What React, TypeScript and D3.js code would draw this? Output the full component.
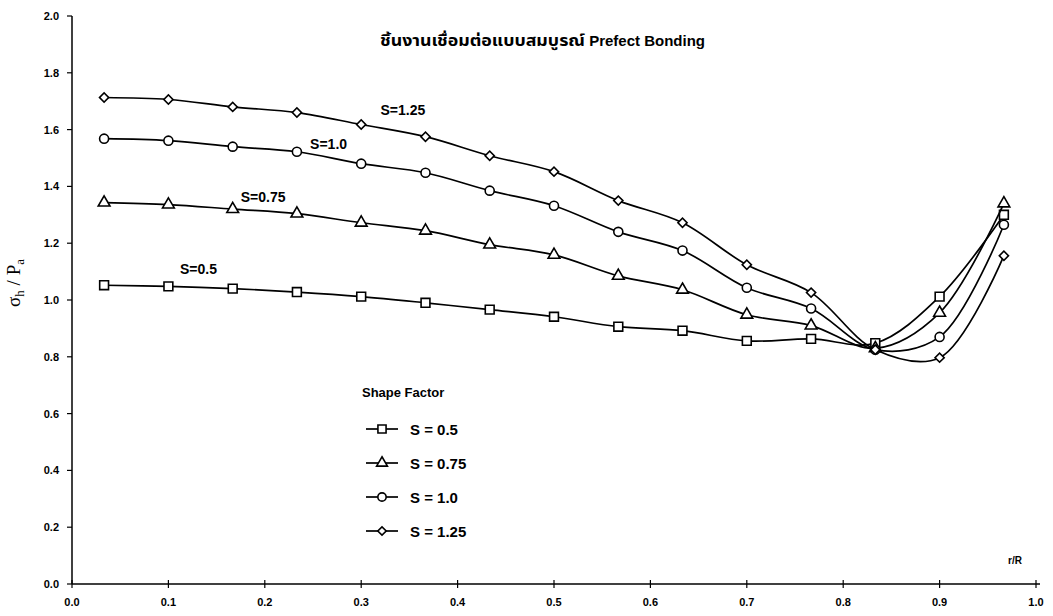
import React from "react";
import * as d3 from "d3";

// r/R positions and the sigma_h / Pa values
const rR = [0.0333, 0.1, 0.1667, 0.2333, 0.3, 0.3667, 0.4333, 0.5, 0.5667, 0.6333, 0.7, 0.7667, 0.8333, 0.9, 0.9667];
const s050 = [1.052, 1.048, 1.04, 1.028, 1.012, 0.99, 0.966, 0.941, 0.906, 0.892, 0.856, 0.863, 0.848, 1.012, 1.3];
const s075 = [1.343, 1.336, 1.32, 1.304, 1.272, 1.244, 1.195, 1.159, 1.085, 1.036, 0.948, 0.91, 0.83, 0.955, 1.34];
const s100 = [1.568, 1.561, 1.54, 1.522, 1.48, 1.448, 1.385, 1.332, 1.24, 1.174, 1.043, 0.97, 0.825, 0.87, 1.265];
const s125 = [1.713, 1.706, 1.68, 1.66, 1.618, 1.575, 1.508, 1.452, 1.35, 1.272, 1.124, 1.026, 0.825, 0.797, 1.156];

const seriesNames = ["S = 0.5", "S = 0.75", "S = 1.0", "S = 1.25"];
const curveLabels = ["S=0.5", "S=0.75", "S=1.0", "S=1.25"];
const xTicks = [0, 0.1, 0.2, 0.3, 0.4, 0.5, 0.6, 0.7, 0.8, 0.9, 1.0];
const yTicks = [0, 0.2, 0.4, 0.6, 0.8, 1.0, 1.2, 1.4, 1.6, 1.8, 2.0];

const titleThai = "ชิ้นงานเชื่อมต่อแบบสมบูรณ์";
const titleEn = " Prefect Bonding";

const font = "Arial, 'Liberation Sans', 'Noto Sans Thai', Loma, Garuda, sans-serif";

export default function App() {
  const width = 1053;
  const height = 616;
  const x = d3.scaleLinear().domain([0, 1]).range([72, 1036]);
  const y = d3.scaleLinear().domain([0, 2]).range([584, 16]);

  const all = [s050, s075, s100, s125];
  const symbols = [
    { type: d3.symbolSquare, size: 78, rot: 0 },
    { type: d3.symbolTriangle, size: 60, rot: 0 },
    { type: d3.symbolCircle, size: 64, rot: 0 },
    { type: d3.symbolSquare, size: 42, rot: 45 },
  ];

  const line = d3
    .line<number>()
    .x((d, i) => x(rR[i]))
    .y((d) => y(d))
    .curve(d3.curveCatmullRom.alpha(0.5));

  // label positions near each curve (in data units)
  const labelPos = [
    [0.112, 1.09],
    [0.175, 1.345],
    [0.247, 1.53],
    [0.32, 1.65],
  ];

  const legendY = [429, 463, 497, 531];

  return (
    <svg width={width} height={height} style={{ position: "absolute", left: 0, top: 0, background: "#fff" }}>
      {/* title */}
      <text x={380} y={46} fontFamily={font} fontWeight="bold" fontSize={15}>
        <tspan textLength={205} lengthAdjust="spacingAndGlyphs">{titleThai}</tspan>
        <tspan>{titleEn}</tspan>
      </text>

      {/* axes */}
      <line x1={x(0)} x2={x(0)} y1={y(2)} y2={y(0)} stroke="#000" strokeWidth={1.5} />
      <line x1={x(0)} x2={x(1) + 4} y1={y(0)} y2={y(0)} stroke="#000" strokeWidth={1.5} />
      {yTicks.map((t) => (
        <g key={"y" + t}>
          <line x1={x(0) - 5} x2={x(0)} y1={y(t)} y2={y(t)} stroke="#000" strokeWidth={1.2} />
          <text x={x(0) - 13} y={y(t) + 4} textAnchor="end" fontFamily={font} fontWeight="bold" fontSize={11}>
            {t.toFixed(1)}
          </text>
        </g>
      ))}
      {xTicks.map((t) => (
        <g key={"x" + t}>
          <line x1={x(t)} x2={x(t)} y1={y(0) - 4} y2={y(0) + 4} stroke="#000" strokeWidth={1.2} />
          <text x={x(t)} y={y(0) + 22} textAnchor="middle" fontFamily={font} fontWeight="bold" fontSize={11}>
            {t.toFixed(1)}
          </text>
        </g>
      ))}
      <text x={1015} y={564} textAnchor="middle" fontFamily={font} fontWeight="bold" fontSize={10}>
        r/R
      </text>

      {/* y axis label */}
      <text
        transform={`translate(20, ${y(1.06)}) rotate(-90)`}
        textAnchor="middle"
        fontFamily="'Liberation Serif', 'DejaVu Serif', serif"
        fontSize={19}
      >
        σ<tspan fontSize={13} dy={4}>h</tspan>
        <tspan dy={-4}> / P</tspan>
        <tspan fontSize={13} dy={4}>a</tspan>
      </text>

      {/* curves */}
      {all.map((vals, si) => (
        <g key={"s" + si}>
          <path d={line(vals) || ""} fill="none" stroke="#000" strokeWidth={1.7} />
          {vals.map((v, i) => (
            <path
              key={i}
              d={d3.symbol().type(symbols[si].type).size(symbols[si].size)() || ""}
              transform={`translate(${x(rR[i])},${y(v)}) rotate(${symbols[si].rot})`}
              fill="#fff"
              stroke="#000"
              strokeWidth={1.6}
            />
          ))}
          <text
            x={x(labelPos[si][0])}
            y={y(labelPos[si][1])}
            fontFamily={font}
            fontWeight="bold"
            fontSize={14}
          >
            {curveLabels[si]}
          </text>
        </g>
      ))}

      {/* legend */}
      <text x={362} y={397} fontFamily={font} fontWeight="bold" fontSize={13}>
        Shape Factor
      </text>
      {seriesNames.map((name, si) => (
        <g key={"l" + si} transform={`translate(0, ${legendY[si]})`}>
          <line x1={366} x2={398} y1={0} y2={0} stroke="#000" strokeWidth={1.7} />
          <path
            d={d3.symbol().type(symbols[si].type).size(symbols[si].size * 0.85)() || ""}
            transform={`translate(382,0) rotate(${symbols[si].rot})`}
            fill="#fff"
            stroke="#000"
            strokeWidth={1.6}
          />
          <text x={410} y={6} fontFamily={font} fontWeight="bold" fontSize={15}>
            {name}
          </text>
        </g>
      ))}
    </svg>
  );
}
